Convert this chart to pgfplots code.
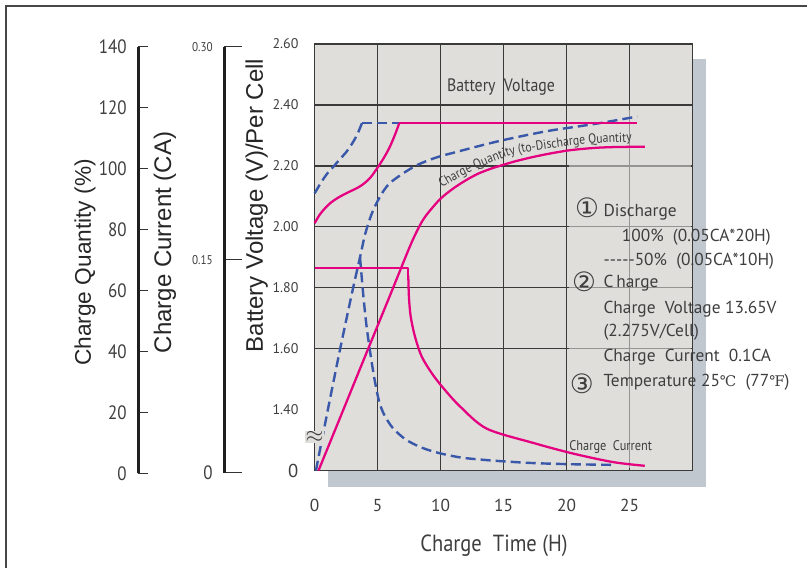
\documentclass[border=0pt]{standalone}
\usepackage{pgfplots}
\pgfplotsset{compat=1.18}
\usepackage{fontspec}
\usetikzlibrary{decorations.text}
\setmainfont{Liberation Sans}
\newfontfamily\pts{PT Sans}
\newfontfamily\cond{PT Sans}[FakeStretch=0.88]
\newfontfamily\dv{DejaVu Sans}
\newfontfamily\dvs{DejaVu Serif}
\definecolor{mag}{RGB}{228,0,127}
\definecolor{blu}{RGB}{58,88,170}
\definecolor{plotbg}{RGB}{224,222,219}
\definecolor{shadow}{RGB}{193,199,207}
\definecolor{txt}{RGB}{62,62,62}
\definecolor{gridc}{RGB}{58,58,58}

\begin{document}
\begin{tikzpicture}
\begin{scope}[x=0.75pt,y=0.75pt]
\path[use as bounding box] (0,0) rectangle (807,568);
\draw[line width=0.9pt, black!72] (6,0) -- (6,562) -- (807,562);
\fill[shadow] (328,81.3) rectangle (706,509);
\end{scope}

% left scale: charge quantity
\begin{axis}[
  at={(103.7pt,71.0pt)}, anchor=south west, scale only axis,
  width=5pt, height=320pt,
  xmin=0, xmax=1, ymin=0, ymax=140,
  hide x axis, axis y line=left,
  y axis line style={-, line width=2pt, draw=black!88},
  ytick={0,20,40,60,80,100,120,140},
  yticklabels={0,20,40,60,80,100,120,140},
  tick align=inside, major tick length=7.3pt,
  tick style={line width=1.1pt, draw=black!80},
  yticklabel style={font=\cond\fontsize{14.5}{14.5}\selectfont, text=txt, anchor=east, inner sep=0pt, xshift=-8.5pt},
]
\end{axis}

% left scale: charge current
\begin{axis}[
  at={(168.2pt,71.5pt)}, anchor=south west, scale only axis,
  width=5pt, height=319.5pt,
  xmin=0, xmax=1, ymin=0, ymax=0.3,
  hide x axis, axis y line=left,
  y axis line style={-, line width=2pt, draw=black!88},
  ytick={0,0.15,0.3},
  yticklabels={{\fontsize{14.5}{14.5}\selectfont 0},0.15,0.30},
  tick align=inside, major tick length=13pt,
  tick style={line width=1.1pt, draw=black!80},
  yticklabel style={font=\cond\fontsize{9.5}{9.5}\selectfont, text=txt, anchor=east, inner sep=0pt, xshift=-8.5pt},
]
\end{axis}

% main chart
\begin{axis}[
  at={(236pt,73pt)}, anchor=south west, scale only axis,
  width=283.5pt, height=320pt,
  xmin=0, xmax=30, ymin=1.2, ymax=2.6,
  clip=false,
  axis background/.style={fill=plotbg},
  axis line style={line width=1.1pt, draw=gridc},
  xtick={0,5,10,15,20,25}, xticklabels={0,5,10,15,20,25},
  ytick={1.2,1.4,1.6,1.8,2.0,2.2,2.4,2.6},
  yticklabels={{\fontsize{14}{14}\selectfont 0},1.40,1.60,1.80,2.00,2.20,2.40,2.60},
  extra y ticks={1.6,1.8,2.0,2.2,2.4}, extra y tick labels={},
  extra y tick style={grid=major},
  xmajorgrids=true,
  grid style={line width=0.9pt, draw=gridc},
  major tick length=0pt,
  xticklabel style={font=\pts\fontsize{13}{13}\selectfont, text=txt, anchor=center, yshift=-26pt},
  yticklabel style={font=\pts\fontsize{10.5}{10.5}\selectfont, text=txt, anchor=east, inner sep=0pt, xshift=-12pt},
]
\fill[plotbg, opacity=0.55] (axis cs:20.15,1.21) rectangle (axis cs:29.85,2.385);

% 50% discharge (dashed)
\addplot[blu, line width=1.8pt, dash pattern=on 7.5pt off 3.8pt, smooth] coordinates {
(0,2.11) (0.5,2.145) (1,2.175) (1.5,2.198) (2,2.222) (2.5,2.245) (3,2.275) (3.4,2.305) (3.75,2.34)};
\addplot[blu, line width=1.8pt, dash pattern=on 7.5pt off 3.8pt] coordinates {(3.75,2.34) (6.7,2.34)};
\addplot[blu, line width=1.8pt, dash pattern=on 7.5pt off 3.8pt, smooth] coordinates {
(0.1,1.2) (1,1.39) (2,1.595) (3,1.79) (3.6,1.9) (4,1.975) (4.5,2.04) (5,2.085) (5.5,2.12) (6,2.145)
(7,2.175) (8,2.2) (9,2.218) (10,2.232) (11,2.243) (12,2.254) (13.4,2.269) (15,2.285) (17.3,2.305)
(19,2.318) (21,2.33) (23,2.343) (25.6,2.362)};
\addplot[blu, line width=1.8pt, dash pattern=on 7.5pt off 3.8pt, smooth] coordinates {
(3.6,1.9) (3.85,1.78) (4.1,1.68) (4.4,1.59) (4.75,1.50) (5.1,1.43) (5.5,1.385) (6.2,1.34) (7.2,1.303)
(8.3,1.279) (9.4,1.263) (10.7,1.25) (12,1.241) (14.5,1.232) (17.3,1.225) (20.5,1.221) (23.9,1.219)};

% 100% discharge (solid)
\addplot[mag, line width=1.7pt, smooth] coordinates {
(0,2.012) (0.4,2.04) (0.82,2.061) (1.3,2.08) (1.87,2.096) (2.5,2.11) (3.2,2.124) (3.6,2.133)
(4,2.145) (4.45,2.163) (4.92,2.19) (5.5,2.227) (5.97,2.263) (6.4,2.305) (6.71,2.34)};
\addplot[mag, line width=1.7pt] coordinates {(6.71,2.34) (25.6,2.34)};
\addplot[mag, line width=1.7pt, smooth] coordinates {
(0.3,1.2) (2,1.372) (4,1.575) (6,1.777) (7.5,1.93) (8.2,1.993) (8.8,2.035) (9.93,2.09) (11,2.126)
(12.05,2.154) (13,2.175) (14,2.191) (15,2.204) (16,2.216) (17.3,2.229) (18.6,2.24) (20,2.25)
(21.3,2.256) (22.6,2.26) (24,2.262) (26.2,2.263)};
\addplot[mag, line width=1.7pt, line join=round] coordinates {(0,1.864) (7.43,1.864) (7.43,1.84)};
\addplot[mag, line width=1.7pt, smooth] coordinates {
(7.43,1.84) (7.48,1.771) (7.62,1.706) (7.96,1.64) (8.49,1.575) (9.29,1.52) (10.21,1.471)
(11.53,1.411) (13.65,1.338) (17.35,1.291) (20.52,1.256) (23.7,1.228) (26.2,1.216)};

\node[fill=plotbg, inner sep=0.2pt, text=txt, font=\fontsize{16}{16}\selectfont] at (axis cs:0,1.31) {$\approx$};
\end{axis}

\begin{scope}[x=0.75pt,y=0.75pt]
% curved label
\path[decorate, decoration={text along path, text align=center,
  text={|\cond\fontsize{10}{10}\selectfont\color{txt}|Charge Quantity (to-Discharge Quantity}}]
  plot[smooth] coordinates {(433,375) (470,396) (513,413) (560,421) (600,425) (642,426.5)};

% axis titles
\node[rotate=90, font=\fontsize{17}{17}\selectfont, text=black!85] at (85,305.5) {Charge Quantity (\%)};
\node[rotate=90, font=\fontsize{18}{18}\selectfont, text=black!85] at (165,325.5) {Charge Current (CA)};
\node[rotate=90, font=\fontsize{18}{18}\selectfont, text=black!85] at (256.7,362.5) {Battery Voltage (V)/Per Cell};
\node[font=\cond\fontsize{17.5}{17.5}\selectfont, text=txt] at (494,22) {Charge\ \ Time (H)};

% annotations
\node[font=\cond\fontsize{13.5}{13.5}\selectfont, text=txt] at (501,481) {Battery\ \ Voltage};
\node[font=\cond\fontsize{10.5}{10.5}\selectfont, text=txt] at (610.7,121) {Charge\ \ Current};

\begin{scope}[every node/.style={anchor=base west, font=\pts\fontsize{13}{13}\selectfont, text=txt, inner sep=0pt}]
\node at (603.3,351.3) {Discharge};
\node at (621.7,326.3) {100\%\ \ (0.05CA*20H)};
\node at (603.3,302) {-{}-{}-{}-{}-50\%\ \ (0.05CA*10H)};
\node at (603.3,280.3) {C\,harge};
\node at (603.3,254.7) {Charge\ \ Voltage 13.65V};
\node at (603.3,231.3) {(2.275V/Cell)};
\node at (603.3,206.3) {Charge\ \ Current\ \ 0.1CA};
\node at (603.3,181.3) {Temperature 25{\dvs\fontsize{11}{11}\selectfont ℃}\ \ (77{\dvs\fontsize{11}{11}\selectfont ℉})};
\end{scope}
\node[font=\dv\fontsize{20}{20}\selectfont, text=txt, inner sep=0pt] at (587,360.7) {①};
\node[font=\dv\fontsize{20}{20}\selectfont, text=txt, inner sep=0pt] at (584,286.3) {②};
\node[font=\dv\fontsize{20}{20}\selectfont, text=txt, inner sep=0pt] at (581.7,184) {③};
\end{scope}
\end{tikzpicture}
\end{document}
